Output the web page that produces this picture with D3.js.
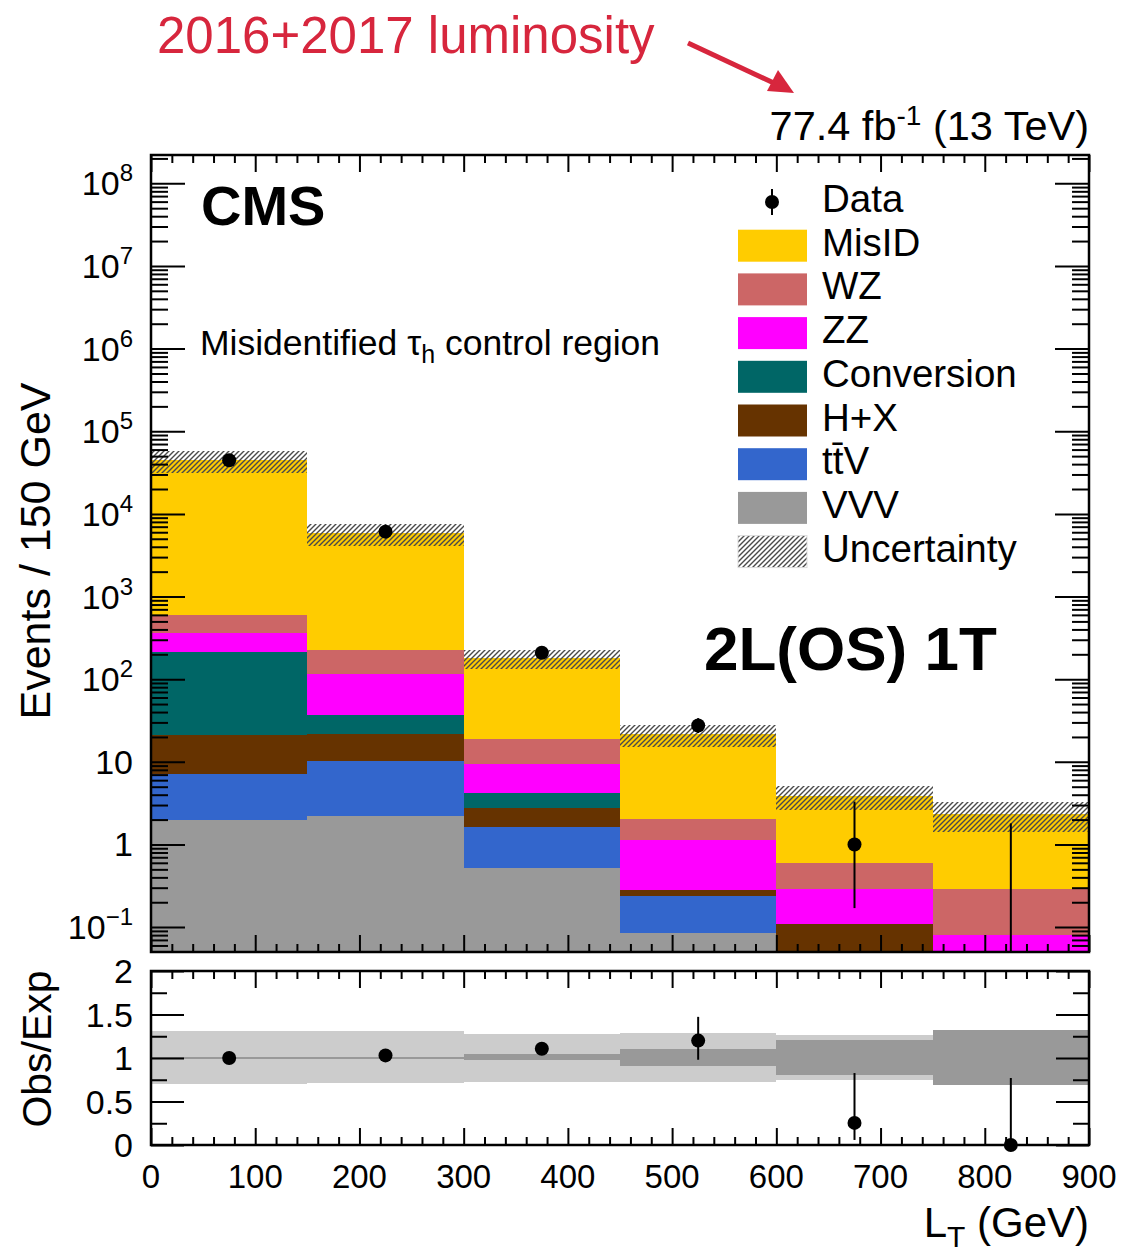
<!DOCTYPE html>
<html>
<head>
<meta charset="utf-8">
<script src="https://cdn.jsdelivr.net/npm/d3@7"></script>
<style>
  body { margin: 0; background: #fff; }
  svg text { font-family: "Liberation Sans", Arial, Helvetica, sans-serif; }
</style>
</head>
<body>
<svg id="chart" width="1127" height="1253"></svg>
<script>
// bin edges in GeV
const binEdges = [0, 150, 300, 450, 600, 750, 900];

// stacked backgrounds, bottom to top
const vvv        = [2.0, 2.22, 0.525, 0.085, 0.005, 0];
const ttv        = [5.1, 8.0, 1.085, 0.15, 0.01, 0];
const hx         = [13.9, 11.2, 1.18, 0.045, 0.094, 0];
const conversion = [190, 15.9, 1.41, 0, 0, 0];
const zz         = [156, 76.7, 5.2, 0.85, 0.179, 0.08];
const wz         = [237, 114, 9.5, 0.91, 0.309, 0.208];
const misid      = [43900, 5580, 160, 19.6, 3.28, 2.07];
const uncErr     = [13000, 1730, 47, 6.4, 1.25, 0.95];

// observed
const dataVals = [44500, 6100, 209, 27.5, 1, 0];
const dataLo   = [211, 78, 14.5, 5.2, 0.83, 0];
const dataHi   = [211, 78, 14.5, 6.3, 2.3, 1.8];

// ratio panel
const ratioVals = [1.0, 1.03, 1.107, 1.2, 0.254, 0];
const ratioLo   = [0, 0, 0, 0.22, 0.196, 0];
const ratioHi   = [0, 0, 0, 0.273, 0.573, 0.77];
const totBandLo = [0.703, 0.71, 0.727, 0.727, 0.742, 0.692];
const totBandHi = [1.315, 1.307, 1.28, 1.288, 1.265, 1.318];
const statBandLo = [0.985, 0.985, 0.972, 0.911, 0.804, 0.692];
const statBandHi = [1.015, 1.015, 1.046, 1.099, 1.203, 1.318];

const processes = ['VVV', 'ttV', 'HX', 'Conversion', 'ZZ', 'WZ', 'MisID'];
const procValues = {VVV: vvv, ttV: ttv, HX: hx, Conversion: conversion, ZZ: zz, WZ: wz, MisID: misid};
const colors = {MisID: '#ffcc00', WZ: '#cc6666', ZZ: '#ff00ff', Conversion: '#006666',
                HX: '#663300', ttV: '#3366cc', VVV: '#999999'};
const legendEntries = [['MisID', 'MisID'], ['WZ', 'WZ'], ['ZZ', 'ZZ'], ['Conversion', 'Conversion'],
                       ['H+X', 'HX'], ['tt\u0304V', 'ttV'], ['VVV', 'VVV']];

const X0 = 151, X1 = 1089, TOP = 155, BOT = 952, RTOP = 971, RBOT = 1145;
const YMIN = 0.05, YMAX = 2.2e8;

const svg = d3.select('#chart');
const defs = svg.append('defs');
const hatch = defs.append('pattern').attr('id', 'hatch')
  .attr('patternUnits', 'userSpaceOnUse').attr('width', 5).attr('height', 5);
hatch.append('path').attr('d', 'M-1,1 l2,-2 M0,5 l5,-5 M4,6 l2,-2')
  .attr('stroke', '#4a4a4a').attr('stroke-width', 1.4);
defs.append('clipPath').attr('id', 'clipTop').append('rect')
  .attr('x', X0).attr('y', TOP).attr('width', X1 - X0).attr('height', BOT - TOP);

const x = d3.scaleLinear().domain([0, 900]).range([X0, X1]);
const y = d3.scaleLog().domain([YMIN, YMAX]).range([BOT, TOP]).clamp(true);
const yr = d3.scaleLinear().domain([0, 2]).range([RBOT, RTOP]);
const yv = v => y(Math.max(v, 1e-4));

// stacked histogram
const rows = dataVals.map((d, i) => {
  const r = {i: i};
  processes.forEach(p => r[p] = procValues[p][i]);
  return r;
});
const series = d3.stack().keys(processes)(rows);

const plot = svg.append('g').attr('clip-path', 'url(#clipTop)').attr('shape-rendering', 'crispEdges');
series.forEach(s => {
  plot.selectAll(null).data(s).join('rect')
    .attr('x', (d, i) => x(binEdges[i]))
    .attr('width', (d, i) => x(binEdges[i + 1]) - x(binEdges[i]))
    .attr('y', d => yv(d[1]))
    .attr('height', d => Math.max(0, yv(d[0]) - yv(d[1])))
    .attr('fill', colors[s.key]);
});

const totals = rows.map(r => d3.sum(processes, p => r[p]));
plot.selectAll(null).data(totals).join('rect')
  .attr('x', (d, i) => x(binEdges[i]))
  .attr('width', (d, i) => x(binEdges[i + 1]) - x(binEdges[i]))
  .attr('y', (d, i) => yv(d + uncErr[i]))
  .attr('height', (d, i) => yv(d - uncErr[i]) - yv(d + uncErr[i]))
  .attr('fill', 'url(#hatch)');

// data points
const centers = binEdges.slice(0, -1).map((e, i) => (e + binEdges[i + 1]) / 2);
const pts = svg.append('g').attr('clip-path', 'url(#clipTop)');
pts.selectAll(null).data(dataVals).join('line')
  .attr('x1', (d, i) => x(centers[i])).attr('x2', (d, i) => x(centers[i]))
  .attr('y1', (d, i) => yv(d - dataLo[i])).attr('y2', (d, i) => yv(d + dataHi[i]))
  .attr('stroke', '#000').attr('stroke-width', 2);
pts.selectAll(null).data(dataVals.filter(d => d > 0)).join('circle')
  .attr('cx', (d, i) => x(centers[i])).attr('cy', d => y(d))
  .attr('r', 7).attr('fill', '#000');

// axes helper
function ticks(axisFn, scale, values, size, tx, ty) {
  svg.append('g').attr('transform', `translate(${tx},${ty})`)
    .call(axisFn(scale).tickValues(values).tickSize(-size).tickFormat(''))
    .call(g => g.select('.domain').remove())
    .call(g => g.selectAll('line').attr('stroke', '#000').attr('stroke-width', 2));
}

const decades = d3.range(-1, 9).map(e => Math.pow(10, e));
const logMinor = [];
d3.range(-2, 9).forEach(e => d3.range(2, 10).forEach(m => {
  const v = m * Math.pow(10, e);
  if (v > YMIN && v < YMAX) logMinor.push(v);
}));
const xMajor = d3.range(0, 901, 100);
const xMinor = d3.range(0, 901, 20).filter(v => v % 100 !== 0);

ticks(d3.axisLeft, y, decades, 34, X0, 0);
ticks(d3.axisLeft, y, logMinor, 17, X0, 0);
ticks(d3.axisRight, y, decades, 34, X1, 0);
ticks(d3.axisRight, y, logMinor, 17, X1, 0);
ticks(d3.axisBottom, x, xMajor, 17, 0, BOT);
ticks(d3.axisBottom, x, xMinor, 8, 0, BOT);
ticks(d3.axisTop, x, xMajor, 17, 0, TOP);
ticks(d3.axisTop, x, xMinor, 8, 0, TOP);

svg.append('rect').attr('x', X0).attr('y', TOP).attr('width', X1 - X0).attr('height', BOT - TOP)
  .attr('fill', 'none').attr('stroke', '#000').attr('stroke-width', 2.5);

// log tick labels
decades.forEach(v => {
  const e = Math.round(Math.log10(v));
  const t = svg.append('text').attr('x', 133).attr('y', y(v) + 12)
    .attr('text-anchor', 'end').attr('font-size', 34);
  if (e === 0) t.text('1');
  else if (e === 1) t.text('10');
  else {
    t.append('tspan').text('10');
    t.append('tspan').attr('dy', -14).attr('font-size', 24).text(e < 0 ? '\u2212' + (-e) : e);
  }
});

// ratio panel
const rp = svg.append('g');
const bands = rp.append('g').attr('shape-rendering', 'crispEdges');
bands.selectAll(null).data(totBandLo).join('rect')
  .attr('x', (d, i) => x(binEdges[i]))
  .attr('width', (d, i) => x(binEdges[i + 1]) - x(binEdges[i]))
  .attr('y', (d, i) => yr(totBandHi[i]))
  .attr('height', (d, i) => yr(d) - yr(totBandHi[i]))
  .attr('fill', '#cccccc');
bands.selectAll(null).data(statBandLo).join('rect')
  .attr('x', (d, i) => x(binEdges[i]))
  .attr('width', (d, i) => x(binEdges[i + 1]) - x(binEdges[i]))
  .attr('y', (d, i) => yr(statBandHi[i]))
  .attr('height', (d, i) => yr(d) - yr(statBandHi[i]))
  .attr('fill', '#999999');
rp.selectAll(null).data(ratioVals).join('line')
  .attr('x1', (d, i) => x(centers[i])).attr('x2', (d, i) => x(centers[i]))
  .attr('y1', (d, i) => yr(d - ratioLo[i])).attr('y2', (d, i) => yr(d + ratioHi[i]))
  .attr('stroke', '#000').attr('stroke-width', 2);
rp.selectAll(null).data(ratioVals).join('circle')
  .attr('cx', (d, i) => x(centers[i])).attr('cy', d => yr(d))
  .attr('r', 7).attr('fill', '#000');

ticks(d3.axisLeft, yr, [0, 0.5, 1, 1.5, 2], 33, X0, 0);
ticks(d3.axisLeft, yr, [0.25, 0.75, 1.25, 1.75], 16, X0, 0);
ticks(d3.axisRight, yr, [0, 0.5, 1, 1.5, 2], 33, X1, 0);
ticks(d3.axisRight, yr, [0.25, 0.75, 1.25, 1.75], 16, X1, 0);
ticks(d3.axisBottom, x, xMajor, 17, 0, RBOT);
ticks(d3.axisBottom, x, xMinor, 8, 0, RBOT);
ticks(d3.axisTop, x, xMajor, 17, 0, RTOP);
ticks(d3.axisTop, x, xMinor, 8, 0, RTOP);

svg.append('rect').attr('x', X0).attr('y', RTOP).attr('width', X1 - X0).attr('height', RBOT - RTOP)
  .attr('fill', 'none').attr('stroke', '#000').attr('stroke-width', 2.5);

['0', '0.5', '1', '1.5', '2'].forEach(s => {
  svg.append('text').attr('x', 133).attr('y', yr(+s) + 12).attr('text-anchor', 'end')
    .attr('font-size', 34).text(s);
});
xMajor.forEach(v => {
  svg.append('text').attr('x', x(v)).attr('y', 1188).attr('text-anchor', 'middle')
    .attr('font-size', 33).text(v);
});

// axis titles
svg.append('text').attr('transform', 'translate(50,551) rotate(-90)')
  .attr('text-anchor', 'middle').attr('font-size', 43).text('Events / 150 GeV');
svg.append('text').attr('transform', 'translate(51,1049) rotate(-90)')
  .attr('text-anchor', 'middle').attr('font-size', 41).text('Obs/Exp');
const xt = svg.append('text').attr('x', X1).attr('y', 1237).attr('text-anchor', 'end').attr('font-size', 42);
xt.append('tspan').text('L');
xt.append('tspan').attr('dy', 10).attr('font-size', 30).text('T');
xt.append('tspan').attr('dy', -10).text(' (GeV)');

// header texts
const lumi = svg.append('text').attr('x', X1).attr('y', 140).attr('text-anchor', 'end').attr('font-size', 41.5);
lumi.append('tspan').text('77.4 fb');
lumi.append('tspan').attr('dy', -15).attr('font-size', 28).text('-1');
lumi.append('tspan').attr('dy', 15).text(' (13 TeV)');

svg.append('text').attr('x', 157).attr('y', 53).attr('font-size', 51).attr('fill', '#d7263d')
  .text('2016+2017 luminosity');
svg.append('line').attr('x1', 688).attr('y1', 43).attr('x2', 776).attr('y2', 84)
  .attr('stroke', '#d7263d').attr('stroke-width', 5);
svg.append('path').attr('d', 'M794,93 L767,91 L778,70 Z').attr('fill', '#d7263d');

svg.append('text').attr('x', 201).attr('y', 225).attr('font-size', 56).attr('font-weight', 'bold').text('CMS');
const sub = svg.append('text').attr('x', 200).attr('y', 355).attr('font-size', 35.5);
sub.append('tspan').text('Misidentified \u03c4');
sub.append('tspan').attr('dy', 8).attr('font-size', 25).text('h');
sub.append('tspan').attr('dy', -8).text(' control region');
svg.append('text').attr('x', 704).attr('y', 670).attr('font-size', 62).attr('font-weight', 'bold')
  .text('2L(OS) 1T');

// legend
const lg = svg.append('g');
const rowY = i => 202 + 43.7 * i;
lg.append('line').attr('x1', 772).attr('x2', 772).attr('y1', rowY(0) - 13).attr('y2', rowY(0) + 13)
  .attr('stroke', '#000').attr('stroke-width', 2);
lg.append('circle').attr('cx', 772).attr('cy', rowY(0)).attr('r', 7).attr('fill', '#000');
lg.append('text').attr('x', 822).attr('y', rowY(0) + 10).attr('font-size', 38.5).text('Data');
legendEntries.forEach((e, k) => {
  const i = k + 1;
  lg.append('rect').attr('x', 738).attr('y', rowY(i) - 16).attr('width', 69).attr('height', 32)
    .attr('fill', colors[e[1]]);
  lg.append('text').attr('x', 822).attr('y', rowY(i) + 10).attr('font-size', 38.5).text(e[0]);
});
lg.append('rect').attr('x', 738).attr('y', rowY(8) - 16).attr('width', 69).attr('height', 32)
  .attr('fill', 'url(#hatch)').attr('stroke', '#ddd').attr('stroke-width', 1);
lg.append('text').attr('x', 822).attr('y', rowY(8) + 10).attr('font-size', 38.5).text('Uncertainty');
</script>
</body>
</html>
